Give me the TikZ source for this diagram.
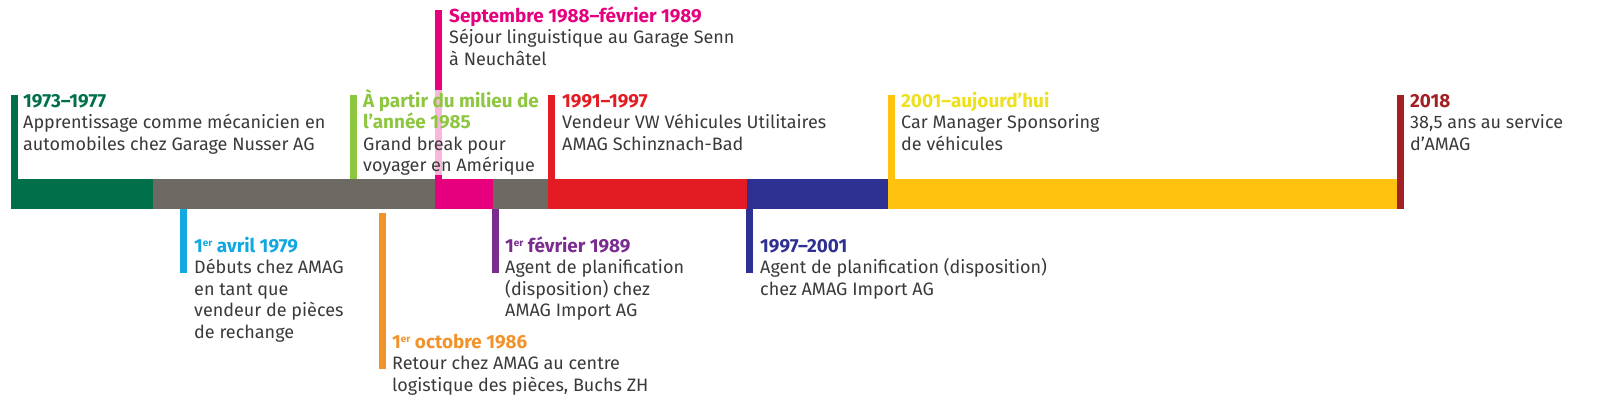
\documentclass[tikz,border=0pt]{standalone}
\usepackage{fontspec}
\setmainfont{Fira Sans}
\definecolor{cgreen}{HTML}{00704A}
\definecolor{cgray}{HTML}{6D6A64}
\definecolor{cpink}{HTML}{E6007E}
\definecolor{cred}{HTML}{E31B23}
\definecolor{cnavy}{HTML}{2E3192}
\definecolor{cyellow}{HTML}{FFC20E}
\definecolor{ctitleyellow}{HTML}{EEE01A}
\definecolor{cdarkred}{HTML}{A21F24}
\definecolor{clgreen}{HTML}{8DC63F}
\definecolor{ccyan}{HTML}{10A8E0}
\definecolor{corange}{HTML}{F0932B}
\definecolor{cpurple}{HTML}{7B2C8F}
\definecolor{body}{HTML}{3A3A3A}
\newcommand{\ttlx}[2]{{\fontsize{18.9}{21.5}\selectfont\bfseries\color{#1}#2}}
\newcommand{\supx}[1]{\raisebox{5.5pt}{\fontsize{10}{10}\selectfont #1}}
\begin{document}
\begin{tikzpicture}[x=1pt,y=-1pt,
  txt/.style={anchor=base west, inner sep=0pt, align=left, text=body,
    font=\fontsize{18}{21.5}\selectfont}]
\useasboundingbox (0,0) rectangle (1597,397);
% bar segments
\fill[cgreen] (11,179) rectangle (153,209);
\fill[cgray] (153,179) rectangle (435,209);
\fill[cpink] (435,179) rectangle (493,209);
\fill[cgray] (493,179) rectangle (548,209);
\fill[cred] (548,179) rectangle (747,209);
\fill[cnavy] (747,179) rectangle (888,209);
\fill[cyellow] (888,179) rectangle (1397,209);
% markers above
\fill[cgreen] (11,95) rectangle (17.5,179);
\fill[clgreen] (350,95) rectangle (356.5,179);
\fill[cpink] (435,10) rectangle (442,179);
\fill[white,opacity=0.72] (435,90) rectangle (442,175);
\fill[cred] (548,95) rectangle (555,179);
\fill[cyellow] (888,95) rectangle (895,179);
\fill[cdarkred] (1397,95) rectangle (1404,209);
% markers below
\fill[ccyan] (180,209) rectangle (186.5,273);
\fill[corange] (379,213) rectangle (385.5,369);
\fill[cpurple] (492,209) rectangle (498.5,273);
\fill[cnavy] (746,209) rectangle (753,273);
% texts (anchored at the baseline of the last line)
\node[txt] (t1) at (23,150) {\ttlx{cgreen}{1973–1977}\\Apprentissage comme mécanicien en\\automobiles chez Garage Nusser AG};
\node[txt] (t2) at (363,171.5) {\ttlx{clgreen}{À partir du milieu de}\\\ttlx{clgreen}{l’année 1985}\\Grand break pour\\voyager en Amérique};
\node[txt] (t3) at (449,65) {\ttlx{cpink}{Septembre 1988–février 1989}\\Séjour linguistique au Garage Senn\\à Neuchâtel};
\node[txt] (t4) at (562,150) {\ttlx{cred}{1991–1997}\\Vendeur VW Véhicules Utilitaires\\AMAG Schinznach-Bad};
\node[txt] (t5) at (901,150) {\ttlx{ctitleyellow}{2001–aujourd’hui}\\Car Manager Sponsoring\\de véhicules};
\node[txt] (t6) at (1410,150) {\ttlx{cdarkred}{2018}\\38,5 ans au service\\d’AMAG};
\node[txt] (b1) at (194,338) {\ttlx{ccyan}{1\supx{er} avril 1979}\\Débuts chez AMAG\\en tant que\\vendeur de pièces\\de rechange};
\node[txt] (b2) at (392,391) {\ttlx{corange}{1\supx{er} octobre 1986}\\Retour chez AMAG au centre\\logistique des pièces, Buchs ZH};
\node[txt] (b3) at (505,316.5) {\ttlx{cpurple}{1\supx{er} février 1989}\\Agent de planification\\(disposition) chez\\AMAG Import AG};
\node[txt] (b4) at (760,295) {\ttlx{cnavy}{1997–2001}\\Agent de planification (disposition)\\chez AMAG Import AG};
\end{tikzpicture}
\end{document}
